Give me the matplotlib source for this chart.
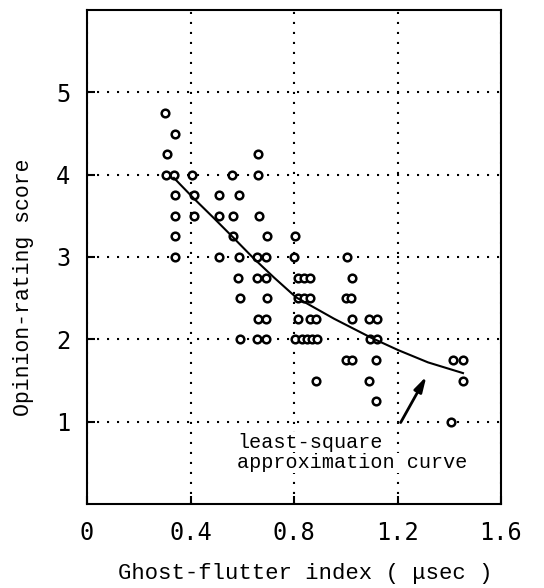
import numpy as np
import matplotlib.pyplot as plt

# measured points, grouped by opinion score (rows of 0.25)
score_rows = [4.75, 4.5, 4.25, 4.0, 3.75, 3.5, 3.25, 3.0, 2.75, 2.5, 2.25, 2.0, 1.75, 1.5, 1.25, 1.0]
index_rows = [
    [0.301],
    [0.340],
    [0.309, 0.661],
    [0.305, 0.336, 0.406, 0.560, 0.661],
    [0.340, 0.414, 0.510, 0.587],
    [0.340, 0.414, 0.510, 0.564, 0.665],
    [0.340, 0.564, 0.696, 0.804],
    [0.340, 0.510, 0.587, 0.657, 0.692, 0.800, 1.005],
    [0.584, 0.657, 0.692, 0.815, 0.839, 0.862, 1.024],
    [0.591, 0.696, 0.815, 0.839, 0.862, 1.001, 1.020],
    [0.661, 0.692, 0.815, 0.862, 0.885, 1.024, 1.090, 1.121],
    [0.591, 0.657, 0.692, 0.804, 0.831, 0.850, 0.870, 0.889, 1.094, 1.121],
    [1.001, 1.024, 1.117, 1.414, 1.453],
    [0.885, 1.090, 1.453],
    [1.117],
    [1.407],
]

# least-square approximation curve
curve_x = [0.336, 0.410, 0.491, 0.564, 0.642, 0.723, 0.808, 0.955, 1.098, 1.202, 1.318, 1.453]
curve_y = [3.96, 3.72, 3.47, 3.24, 2.99, 2.75, 2.51, 2.25, 2.02, 1.87, 1.72, 1.59]

xticks = [0, 0.4, 0.8, 1.2, 1.6]
xlabels = ['0', '0.4', '0.8', '1.2', '1.6']
yticks = [1, 2, 3, 4, 5]

fig = plt.figure(figsize=(5.44, 5.88), dpi=100)
ax = fig.add_axes([87/544, (588-504)/588, (501-87)/544, (504-10)/588])

for s, xs in zip(score_rows, index_rows):
    ax.plot(xs, [s]*len(xs), 'o', ms=5.5, mfc='white', mec='black', mew=1.8, ls='none', zorder=3)

ax.plot(curve_x, curve_y, color='black', lw=1.5, zorder=4)

ax.annotate('', xy=(1.317, 1.58), xytext=(1.207, 0.96),
            arrowprops=dict(arrowstyle='-|>,head_length=0.9,head_width=0.25', color='black', lw=2),
            zorder=5)
note_bg = dict(facecolor='white', edgecolor='none', pad=0.5)
ax.text(0.58, 0.75, 'least-square', family='Liberation Mono', fontsize=14.5, va='center',
        bbox=note_bg, zorder=5)
ax.text(0.58, 0.50, 'approximation curve', family='Liberation Mono', fontsize=14.5, va='center',
        bbox=note_bg, zorder=5)

ax.set_xlim(0, 1.6)
ax.set_ylim(0, 6)
ax.set_xticks(xticks)
ax.set_xticklabels(xlabels, family='DejaVu Sans Mono', fontsize=17)
ax.set_yticks(yticks)
ax.set_yticklabels([str(t) for t in yticks], family='DejaVu Sans Mono', fontsize=17)
ax.tick_params(direction='in', length=6, width=1.5, pad=12)
ax.grid(True, color='black', lw=1.5, ls=(0, (1, 3.8)))
for sp in ax.spines.values():
    sp.set_linewidth(1.5)

fig.text(305/544, 1 - 573/588, 'Ghost-flutter index ( \u03bcsec )', family='Liberation Mono',
         fontsize=16, ha='center', va='center')
fig.text(24/544, 1 - 287/588, 'Opinion-rating score', family='Liberation Mono',
         fontsize=15.5, ha='center', va='center', rotation=90)

fig.savefig('out.png', dpi=100)
